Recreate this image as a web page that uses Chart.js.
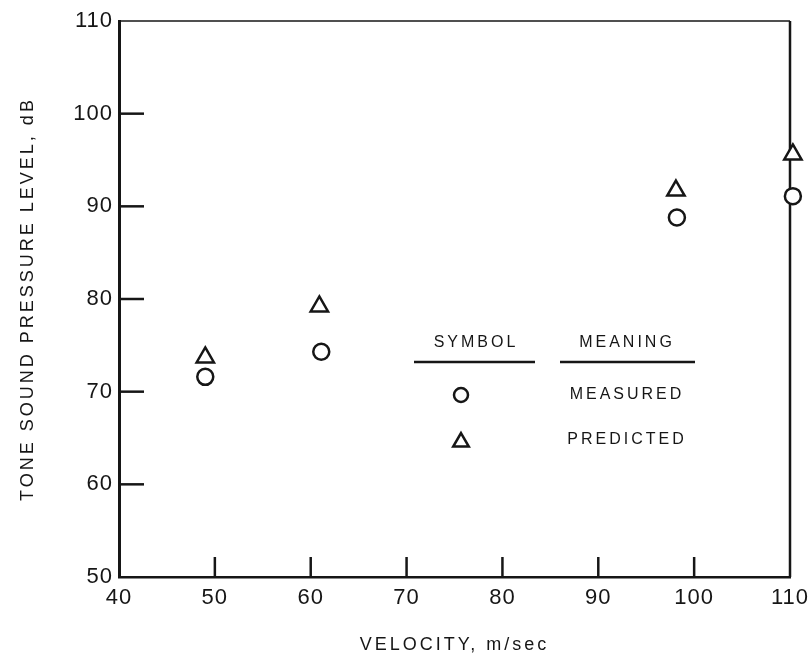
<!DOCTYPE html>
<html>
<head>
<meta charset="utf-8">
<script src="https://cdn.jsdelivr.net/npm/chart.js@4/dist/chart.umd.min.js"></script>
<style>
  html, body { margin: 0; padding: 0; background: #fff; }
  #wrap { width: 809px; height: 664px; }
</style>
</head>
<body>
<div id="wrap"><canvas id="tone"></canvas></div>
<script>
// velocity, m/sec
var measuredX = [49.0, 61.1, 98.2, 110.3];
var measuredY = [71.6, 74.3, 88.8, 91.1];
var predictedX = [49.0, 60.9, 98.1, 110.3];
var predictedY = [73.7, 79.2, 91.7, 95.6];

var xTicks = [40, 50, 60, 70, 80, 90, 100, 110];
var yTicks = [50, 60, 70, 80, 90, 100, 110];

var INK = '#161616';
var FONT = "'Liberation Sans', Arial, sans-serif";

function _pairs(xs, ys) {
  return xs.map(function (x, i) { return { x: x, y: ys[i] }; });
}

// titles are tracked wide, tick labels less (labels sit on a z:1 layer)
var framePlugin = {
  id: 'frame',
  beforeLayout: function (chart) { chart.ctx.letterSpacing = '1px'; },
  beforeDraw: function (chart) { chart.ctx.letterSpacing = '3px'; },
  beforeDatasetsDraw: function (chart) {
    var ctx = chart.ctx;
    var a = chart.chartArea;
    var xs = chart.scales.x;
    var ys = chart.scales.y;
    ctx.save();
    ctx.strokeStyle = INK;
    ctx.lineWidth = 1.5;
    ctx.beginPath();
    ctx.moveTo(a.left, a.top);
    ctx.lineTo(a.right, a.top);
    ctx.stroke();
    ctx.lineWidth = 2.5;
    ctx.beginPath();
    ctx.moveTo(a.right, a.top);
    ctx.lineTo(a.right, a.bottom);
    ctx.stroke();
    xTicks.slice(1, -1).forEach(function (v) {
      var px = xs.getPixelForValue(v);
      ctx.beginPath();
      ctx.moveTo(px, a.bottom);
      ctx.lineTo(px, a.bottom - 20);
      ctx.stroke();
    });
    yTicks.slice(1, -1).forEach(function (v) {
      var py = ys.getPixelForValue(v);
      ctx.beginPath();
      ctx.moveTo(a.left, py);
      ctx.lineTo(a.left + 25, py);
      ctx.stroke();
    });
    ctx.restore();
  },
};

// the symbol table drawn inside the plot
var keyPlugin = {
  id: 'symbolKey',
  afterDatasetsDraw: function (chart) {
    var ctx = chart.ctx;
    var a = chart.chartArea;
    var symX = a.left + 357;
    var textX = a.left + 508;
    ctx.save();
    ctx.letterSpacing = '3px';
    ctx.fillStyle = INK;
    ctx.strokeStyle = INK;
    ctx.font = '16px ' + FONT;
    ctx.textAlign = 'center';
    ctx.textBaseline = 'middle';
    ctx.fillText('SYMBOL', symX, a.top + 322);
    ctx.fillText('MEANING', textX, a.top + 322);
    ctx.fillText('MEASURED', textX, a.top + 374);
    ctx.fillText('PREDICTED', textX, a.top + 419);
    ctx.lineWidth = 2.5;
    ctx.beginPath();
    ctx.moveTo(a.left + 295, a.top + 341);
    ctx.lineTo(a.left + 416, a.top + 341);
    ctx.moveTo(a.left + 441, a.top + 341);
    ctx.lineTo(a.left + 576, a.top + 341);
    ctx.stroke();
    ctx.fillStyle = '#fff';
    Chart.helpers.drawPoint(ctx, { pointStyle: 'circle', radius: 7, rotation: 0, borderWidth: 2.5 }, a.left + 342, a.top + 374);
    Chart.helpers.drawPoint(ctx, { pointStyle: 'triangle', radius: 9, rotation: 0, borderWidth: 2.5 }, a.left + 342, a.top + 421);
    ctx.restore();
    ctx.letterSpacing = '1px';
  },
};

var tickFont = { family: FONT, size: 22 };
var titleFont = { family: FONT, size: 18 };

new Chart(document.getElementById('tone'), {
  type: 'scatter',
  data: {
    datasets: [
      {
        label: 'MEASURED',
        data: _pairs(measuredX, measuredY),
        pointStyle: 'circle',
        pointRadius: 8,
        pointBorderWidth: 2.5,
        pointBackgroundColor: '#fff',
        pointBorderColor: INK,
        clip: false,
      },
      {
        label: 'PREDICTED',
        data: _pairs(predictedX, predictedY),
        pointStyle: 'triangle',
        pointRadius: 10,
        pointBorderWidth: 2.5,
        pointBackgroundColor: '#fff',
        pointBorderColor: INK,
        clip: false,
      },
    ],
  },
  options: {
    responsive: true,
    maintainAspectRatio: false,
    animation: false,
    layout: { padding: { top: 21, right: 19, left: 0, bottom: 0 } },
    plugins: { legend: { display: false }, tooltip: { enabled: false } },
    scales: {
      x: {
        type: 'linear',
        min: 40,
        max: 110,
        afterFit: function (s) { s.height = 87; s.paddingRight = 19; s.paddingLeft = 0; },
        afterBuildTicks: function (s) { s.ticks = xTicks.map(function (v) { return { value: v }; }); },
        grid: { display: false, drawTicks: false },
        border: { display: true, color: INK, width: 2.5 },
        ticks: { color: INK, font: tickFont, padding: 8, maxRotation: 0, z: 1 },
        title: { display: true, text: 'VELOCITY, m/sec', color: INK, font: titleFont, padding: { top: 4, bottom: 8 } },
      },
      y: {
        type: 'linear',
        min: 50,
        max: 110,
        afterFit: function (s) { s.width = 119; s.paddingTop = 21; s.paddingBottom = 0; },
        afterBuildTicks: function (s) { s.ticks = yTicks.map(function (v) { return { value: v }; }); },
        grid: { display: false, drawTicks: false },
        border: { display: true, color: INK, width: 3 },
        ticks: { color: INK, font: tickFont, padding: 6, z: 1 },
        title: { display: true, text: 'TONE SOUND PRESSURE LEVEL, dB', color: INK, font: titleFont, padding: { top: 17, bottom: 0 } },
      },
    },
  },
  plugins: [framePlugin, keyPlugin],
});
</script>
</body>
</html>
